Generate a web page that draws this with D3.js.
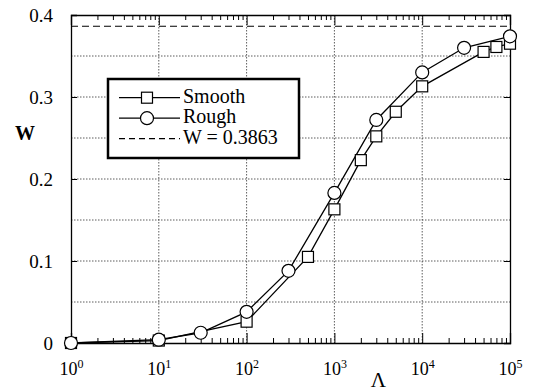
<!DOCTYPE html>
<html>
<head>
<meta charset="utf-8">
<script src="https://cdn.jsdelivr.net/npm/d3@7"></script>
<style>
  body { margin: 0; background: #fff; }
  svg { display: block; }
  .axis path { stroke: #000; stroke-width: 1.3px; }
  .axis line { stroke: #000; }
</style>
</head>
<body>
<div id="chart"></div>
<script>
// Data
const smoothLambda = [1, 10, 100, 500, 1000, 2000, 3000, 5000, 10000, 50000, 70000, 100000];
const smoothW = [0, 0.003, 0.026, 0.105, 0.163, 0.223, 0.252, 0.282, 0.313, 0.355, 0.361, 0.365];
const roughLambda = [1, 10, 30, 100, 300, 1000, 3000, 10000, 30000, 100000];
const roughW = [0, 0.004, 0.0125, 0.038, 0.088, 0.183, 0.272, 0.330, 0.360, 0.374];
const wLimit = 0.3863;
const xDecades = [1, 10, 100, 1000, 10000, 100000];
const yTicks = [0, 0.1, 0.2, 0.3, 0.4];
const yGrid = [0.05, 0.1, 0.15, 0.2, 0.25, 0.3, 0.35];
const legendLabels = ['Smooth', 'Rough', 'W = 0.3863'];

const FONT = "'Liberation Serif', 'DejaVu Serif', serif";

const margin = { left: 71, right: 24, top: 15, bottom: 48 };
const width = 534 - margin.left - margin.right;
const height = 391 - margin.top - margin.bottom;

const svg = d3.select('#chart').append('svg')
  .attr('width', 534)
  .attr('height', 391)
  .style('font-family', FONT);
const g = svg.append('g')
  .attr('transform', 'translate(' + margin.left + ',' + margin.top + ')');

const x = d3.scaleLog().domain([1, 100000]).range([0, width]);
const y = d3.scaleLinear().domain([0, 0.4]).range([height, 0]);

// minor log ticks
const minors = [];
xDecades.slice(0, -1).forEach(d => {
  for (let k = 2; k <= 9; k++) minors.push(d * k);
});

// Grid
g.append('g').selectAll('line.hg')
  .data(yGrid).join('line')
  .attr('x1', 0).attr('x2', width)
  .attr('y1', d => y(d)).attr('y2', d => y(d))
  .attr('stroke', '#333').attr('stroke-width', 0.8)
  .attr('stroke-dasharray', '1.5,1.5');
g.append('g').selectAll('line.vg')
  .data(xDecades.slice(1, -1)).join('line')
  .attr('x1', d => x(d)).attr('x2', d => x(d))
  .attr('y1', 0).attr('y2', height)
  .attr('stroke', '#333').attr('stroke-width', 0.8)
  .attr('stroke-dasharray', '1.5,1.5');

// Limit line
g.append('line')
  .attr('x1', 0).attr('x2', width)
  .attr('y1', y(wLimit)).attr('y2', y(wLimit))
  .attr('stroke', '#000').attr('stroke-width', 1.2)
  .attr('stroke-dasharray', '7,4');

// Axes
const xAxis = g.append('g').attr('class', 'axis')
  .attr('transform', 'translate(0,' + height + ')')
  .call(d3.axisBottom(x).tickValues(xDecades).tickSize(-10).tickPadding(19).tickFormat(() => '10'));
xAxis.attr('font-family', null);
xAxis.selectAll('.tick text')
  .attr('font-size', 18)
  .style('font-family', FONT)
  .each(function(d) {
    d3.select(this).append('tspan')
      .attr('dy', '-0.6em')
      .attr('font-size', 12)
      .text(Math.round(Math.log10(d)));
  });
g.append('g').attr('class', 'axis')
  .attr('transform', 'translate(0,' + height + ')')
  .call(d3.axisBottom(x).tickValues(minors).tickSize(-5).tickFormat(''))
  .select('.domain').remove();

g.append('g').attr('class', 'axis')
  .call(d3.axisTop(x).tickValues(xDecades).tickSize(-10).tickFormat(''));
g.append('g').attr('class', 'axis')
  .call(d3.axisTop(x).tickValues(minors).tickSize(-5).tickFormat(''))
  .select('.domain').remove();

const yAxis = g.append('g').attr('class', 'axis')
  .call(d3.axisLeft(y).tickValues(yTicks).tickSize(-6).tickPadding(18).tickFormat(d => d === 0 ? '0' : d3.format('.1f')(d)));
yAxis.attr('font-family', null);
yAxis.selectAll('.tick text').attr('font-size', 19).style('font-family', FONT);
g.append('g').attr('class', 'axis')
  .attr('transform', 'translate(' + width + ',0)')
  .call(d3.axisRight(y).tickValues(yTicks).tickSize(-6).tickFormat(''));

// Axis labels
svg.append('text')
  .attr('x', 25).attr('y', 140)
  .attr('text-anchor', 'middle')
  .attr('font-size', 20).attr('font-weight', 'bold')
  .text('W');
svg.append('text')
  .attr('x', margin.left + x(3162)).attr('y', 387)
  .attr('text-anchor', 'middle')
  .attr('font-size', 21)
  .text('Λ');

// Series
const line = d3.line().x(d => x(d[0])).y(d => y(d[1]));
const smooth = smoothLambda.map((l, i) => [l, smoothW[i]]);
const rough = roughLambda.map((l, i) => [l, roughW[i]]);

g.append('path').attr('d', line(smooth))
  .attr('fill', 'none').attr('stroke', '#000').attr('stroke-width', 1.3);
g.append('path').attr('d', line(rough))
  .attr('fill', 'none').attr('stroke', '#000').attr('stroke-width', 1.3);

const sq = 11;
g.append('g').selectAll('rect')
  .data(smooth).join('rect')
  .attr('x', d => x(d[0]) - sq / 2).attr('y', d => y(d[1]) - sq / 2)
  .attr('width', sq).attr('height', sq)
  .attr('fill', '#fff').attr('stroke', '#000').attr('stroke-width', 1.2);
g.append('g').selectAll('circle')
  .data(rough).join('circle')
  .attr('cx', d => x(d[0])).attr('cy', d => y(d[1]))
  .attr('r', 6.5)
  .attr('fill', '#fff').attr('stroke', '#000').attr('stroke-width', 1.2);

// Legend
const legend = svg.append('g').attr('transform', 'translate(108,79)');
legend.append('rect')
  .attr('width', 191).attr('height', 79)
  .attr('fill', '#fff').attr('stroke', '#000').attr('stroke-width', 2.5);
legendLabels.forEach((lab, i) => {
  const ly = 18.7 + i * 20.5;
  const row = legend.append('g').attr('transform', 'translate(0,' + ly + ')');
  row.append('line')
    .attr('x1', 11).attr('x2', 72)
    .attr('stroke', '#000').attr('stroke-width', i === 2 ? 1.2 : 1.3)
    .attr('stroke-dasharray', i === 2 ? '6,4' : null);
  if (i === 0) {
    row.append('rect').attr('x', 39 - sq / 2).attr('y', -sq / 2)
      .attr('width', sq).attr('height', sq)
      .attr('fill', '#fff').attr('stroke', '#000').attr('stroke-width', 1.2);
  } else if (i === 1) {
    row.append('circle').attr('cx', 39).attr('r', 6.5)
      .attr('fill', '#fff').attr('stroke', '#000').attr('stroke-width', 1.2);
  }
  row.append('text')
    .attr('x', 75).attr('y', 5)
    .attr('font-size', 20)
    .text(lab);
});
</script>
</body>
</html>
